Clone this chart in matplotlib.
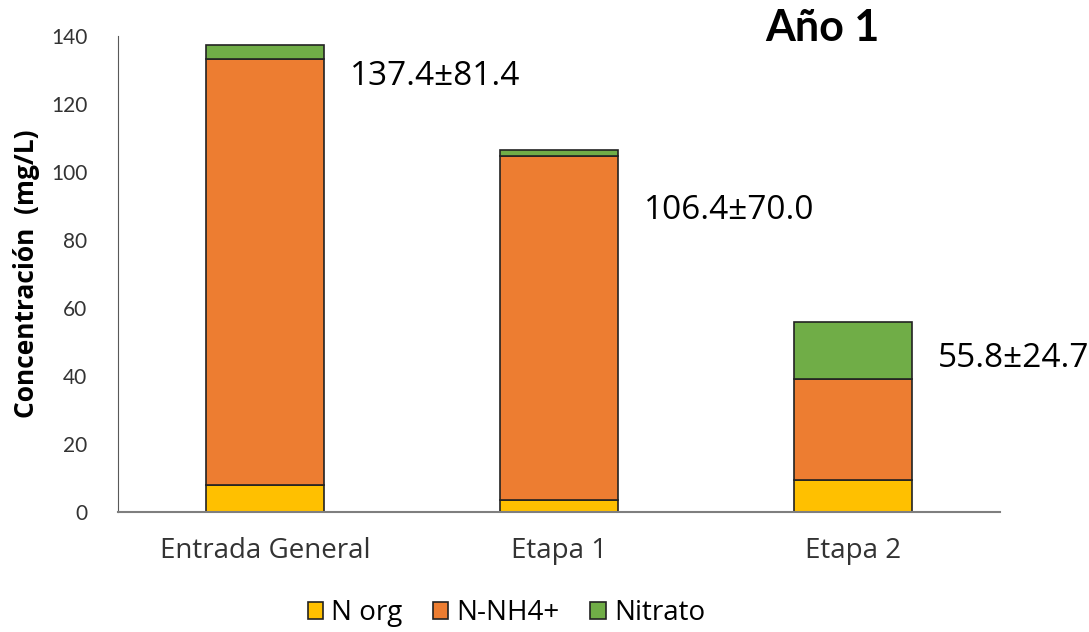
import numpy as np
import matplotlib.pyplot as plt

plt.rcParams['font.family'] = ['Open Sans', 'DejaVu Sans']

etapas = ['Entrada General', 'Etapa 1', 'Etapa 2']
n_org = [8.0, 3.4, 9.4]
n_nh4 = [125.2, 101.3, 29.8]
nitrato = [4.2, 1.7, 16.6]
etiquetas = ['137.4±81.4', '106.4±70.0', '55.8±24.7']

fig = plt.figure(figsize=(10.89, 6.32), dpi=100)
ax = fig.add_axes([0.1084, 0.19, 0.8099, 0.7525])

x = np.arange(len(etapas))
w = 0.4
base2 = np.array(n_org) + np.array(n_nh4)
total = base2 + np.array(nitrato)

ax.bar(x, n_org, w, color='#FFC000', edgecolor='#222222', linewidth=1.2, label='N org')
ax.bar(x, n_nh4, w, bottom=n_org, color='#ED7D31', edgecolor='#222222', linewidth=1.2, label='N-NH4+')
ax.bar(x, nitrato, w, bottom=base2, color='#70AD47', edgecolor='#222222', linewidth=1.2, label='Nitrato')

# valor medio ± desviación junto a cada barra
offs = [-9.3, -17.6, -10.6]
for i in range(len(etapas)):
    ax.text(x[i] + 0.29, total[i] + offs[i], etiquetas[i], fontsize=24, va='center', ha='left')

ax.set_xlim(-0.5, 2.5)
ax.set_ylim(0, 140)
ax.set_yticks(range(0, 141, 20))
ax.set_xticks(x)
ax.set_xticklabels(etapas, fontsize=20)
ax.tick_params(axis='both', length=0, colors='#333333')
for t in ax.get_yticklabels():
    t.set_fontfamily('Lato')
    t.set_fontsize(15)
ax.tick_params(axis='y', pad=22)
ax.tick_params(axis='x', pad=18)
for s in ['top', 'right']:
    ax.spines[s].set_visible(False)
ax.spines['left'].set_color('#595959')
ax.spines['bottom'].set_color('#7f7f7f')
ax.spines['bottom'].set_linewidth(1.5)

ax.set_ylabel('Concentración  (mg/L)', fontsize=19, fontweight='bold', labelpad=8)
fig.text(0.703, 0.955, 'Año 1', fontsize=31, fontweight='bold', va='center', ha='left', family='Lato')

fig.legend(loc='center', bbox_to_anchor=(0.465, 0.03), ncol=3, frameon=False, fontsize=20,
           handlelength=0.55, handleheight=0.55, handletextpad=0.3, columnspacing=1.1)

fig.savefig('out.png', dpi=100)
